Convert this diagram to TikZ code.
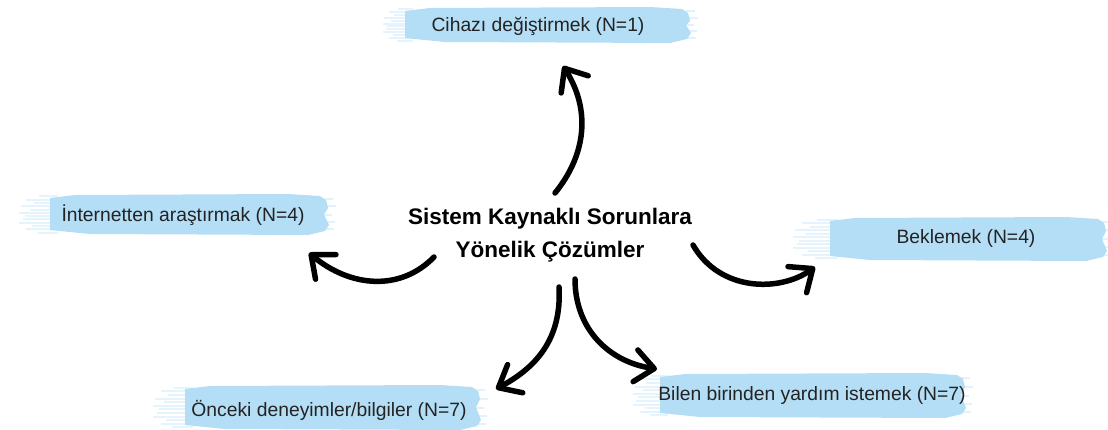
\documentclass[tikz,border=0pt]{standalone}
\usepackage{fontspec}
\setmainfont{Liberation Sans}
\usetikzlibrary{arrows.meta}
\definecolor{brushblue}{RGB}{180,222,246}
\definecolor{labeltext}{RGB}{35,35,35}
\newcommand\brushbg[5]{%
  \fill[brushblue] ({#2},{#4+4}) -- ({#2+25},{#4+1}) -- ({#3-40},{#4}) -- ({#3-8},{#4+2}) -- ({#3-2},{#4+6}) -- ({#3},{#4+14}) -- ({#3-4},{(#4+#5)/2}) -- ({#3+1},{#5-10}) -- ({#3-3},{#5-4}) -- ({#3-20},{#5}) -- ({#2+40},{#5-1}) -- ({#2},{#5-5}) -- cycle;
  \foreach \wy/\wl in {0.06/0.45,0.14/0.8,0.22/0.6,0.3/0.95,0.38/0.7,0.46/1.0,0.54/0.85,0.62/0.9,0.7/1.0,0.78/0.65,0.86/0.8,0.94/0.5}{
    \fill[brushblue,opacity=0.35] ({#2+6-\wl*(#2-#1)},{#4+\wy*(#5-#4)-1}) rectangle ({#2+8},{#4+\wy*(#5-#4)+1});
  }
  \foreach \wy/\wl in {0.12/5,0.3/8,0.5/4,0.68/7,0.86/6}{
    \fill[brushblue,opacity=0.4] ({#3-4},{#4+\wy*(#5-#4)-1}) rectangle ({#3+\wl},{#4+\wy*(#5-#4)+1});
  }
}
\tikzset{
  lbl/.style={font=\fontsize{19.3}{23}\selectfont, text=labeltext, anchor=base, inner sep=0pt},
  titlenode/.style={font=\fontsize{22.5}{33}\selectfont\bfseries, text=black, align=center, inner sep=0pt},
  handarrow/.style={line width=5.5pt, line cap=round, -{Straight Barb[length=19pt,width=32pt,round]}}
}
\begin{document}
\begin{tikzpicture}[x=1pt,y=-1pt]
\useasboundingbox (0,0) rectangle (1108,429);
% brush backgrounds
\brushbg{377}{405}{690}{7}{43}
\brushbg{13}{50}{328}{194}{235}
\brushbg{787}{830}{1106}{217}{261}
\brushbg{147}{185}{480}{385}{430}
\brushbg{627}{660}{965}{373}{418}
% labels
\node[lbl] (cihaz) at (538,31) {Cihazı değiştirmek (N=1)};
\node[lbl] (internet) at (183,221) {İnternetten araştırmak (N=4)};
\node[lbl] (bekle) at (966,243) {Beklemek (N=4)};
\node[lbl] (onceki) at (329,416) {Önceki deneyimler/bilgiler (N=7)};
\node[lbl] (bilen) at (812,400) {Bilen birinden yardım istemek (N=7)};
\node[titlenode] (center) at (550,235) {Sistem Kaynaklı Sorunlara\\Yönelik Çözümler};
% arrow end points
\coordinate (upS) at (555,193);
\coordinate (upE) at (563,66);
\coordinate (lS) at (434,257);
\coordinate (lE) at (309,253);
\coordinate (rS) at (693,245);
\coordinate (rE) at (815,267);
\coordinate (blS) at (559,287);
\coordinate (blE) at (496,389);
\coordinate (brS) at (575,279);
\coordinate (brE) at (657,369);
% arrows
\draw[handarrow] (upS) .. controls (586,155) and (591,110) .. (upE);
\draw[handarrow] (lS) .. controls (400,292) and (350,287) .. (lE);
\draw[handarrow] (rS) .. controls (720,292) and (780,292) .. (rE);
\draw[handarrow] (blS) .. controls (562,340) and (535,368) .. (blE);
\draw[handarrow] (brS) .. controls (575,330) and (610,362) .. (brE);
\end{tikzpicture}
\end{document}
